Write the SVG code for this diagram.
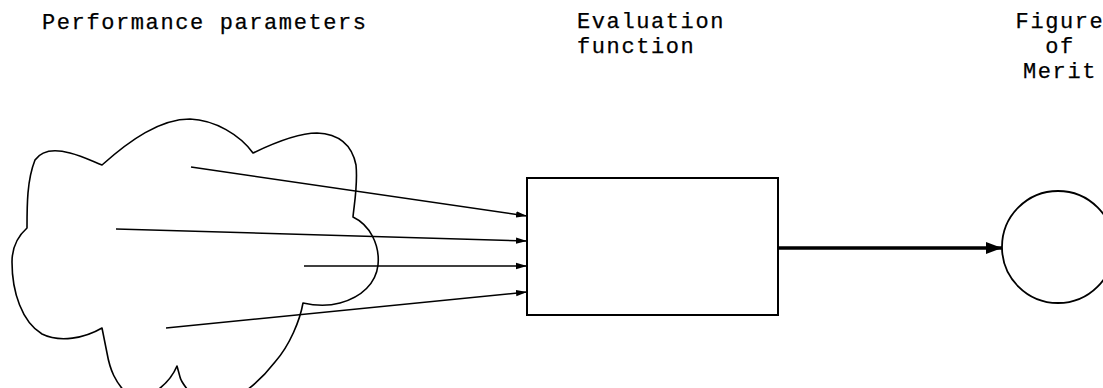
<svg xmlns="http://www.w3.org/2000/svg" width="1103" height="388" viewBox="0 0 1103 388">
  <style>
    .lbl { font-family: "Liberation Mono", "DejaVu Sans Mono", monospace; font-size: 22px; letter-spacing: 1.6px; fill: #000; stroke: #000; stroke-width: 0.25; }
    .shape { fill: none; stroke: #000; stroke-width: 1.6; stroke-linejoin: round; }
    .in { stroke: #000; stroke-width: 1.5; fill: none; }
    .out { stroke: #000; stroke-width: 3.5; fill: none; }
  </style>
  <defs>
    <marker id="tip" markerUnits="userSpaceOnUse" markerWidth="12" markerHeight="8" refX="11" refY="4" orient="auto">
      <path d="M0,0.8 L11,4 L0,7.2 Z" fill="#000"/>
    </marker>
    <marker id="tipBig" markerUnits="userSpaceOnUse" markerWidth="17" markerHeight="14" refX="16" refY="7" orient="auto">
      <path d="M0,1 L16,7 L0,13 Z" fill="#000"/>
    </marker>
  </defs>

  <rect width="1103" height="388" fill="#fff"/>

  <!-- headings -->
  <g id="labels">
    <text class="lbl" x="42" y="29">Performance parameters</text>
    <text class="lbl" x="577" y="28">Evaluation</text>
    <text class="lbl" x="577" y="53">function</text>
    <text class="lbl" x="1060" y="28" text-anchor="middle">Figure</text>
    <text class="lbl" x="1060" y="53" text-anchor="middle">of</text>
    <text class="lbl" x="1060" y="78" text-anchor="middle">Merit</text>
  </g>

  <!-- parameter cloud, runs off the bottom edge -->
  <g id="cloud">
    <path class="shape" d="M102,165
      C130,140 160,119 190,119
      C215,120 240,135 253,153
      C280,140 300,133 317,133
      C340,134 352,145 356,165
      C358,185 354,205 353,217
      C370,225 380,245 378,265
      C376,283 362,297 340,303
      C325,307 312,305 303,303
      C300,320 290,345 275,362
      C265,375 255,385 240,395
      L192,395
      C186,388 181,382 180,377
      L177,366
      C172,378 162,388 150,395
      L128,395
      C115,382 110,370 107,353
      L102,328
      C85,338 60,343 42,334
      C22,322 12,292 12,262
      C12,246 18,236 27,228
      C27,205 27,180 35,160
      C42,150 55,149 70,153
      C82,156 92,161 102,165 Z"/>
  </g>

  <!-- evaluation function block -->
  <g id="evaluator">
    <rect x="527" y="178" width="251" height="137" fill="none" stroke="#000" stroke-width="2"/>
  </g>

  <!-- figure of merit -->
  <g id="merit">
    <circle cx="1058" cy="247" r="56" fill="none" stroke="#000" stroke-width="1.8"/>
  </g>

  <g id="connectors">
    <line class="in" x1="191" y1="167" x2="527" y2="216" marker-end="url(#tip)"/>
    <line class="in" x1="116" y1="229" x2="527" y2="241" marker-end="url(#tip)"/>
    <line class="in" x1="304" y1="266" x2="527" y2="266" marker-end="url(#tip)" stroke-width="2"/>
    <line class="in" x1="166" y1="328" x2="527" y2="292" marker-end="url(#tip)"/>
    <line class="out" x1="778" y1="248" x2="1002" y2="248" marker-end="url(#tipBig)"/>
  </g>
</svg>
